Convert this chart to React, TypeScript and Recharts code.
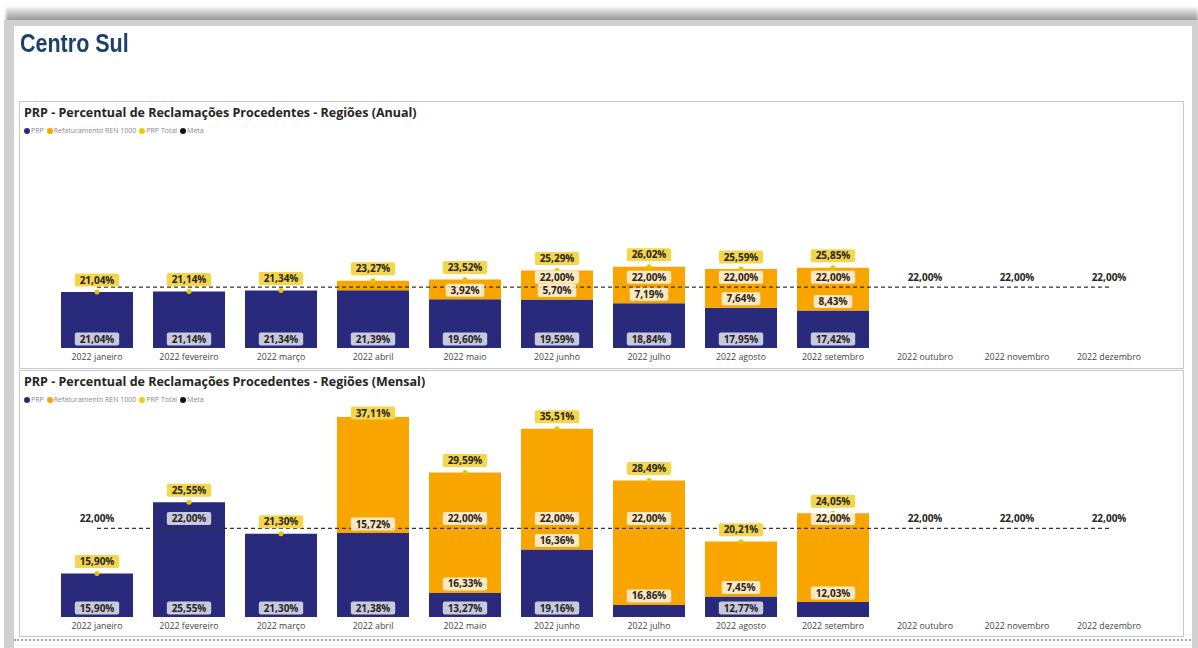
import React from "react";
import { ComposedChart, Bar, Line, XAxis, YAxis, LabelList } from "recharts";

const months = [
  "2022 janeiro",
  "2022 fevereiro",
  "2022 março",
  "2022 abril",
  "2022 maio",
  "2022 junho",
  "2022 julho",
  "2022 agosto",
  "2022 setembro",
  "2022 outubro",
  "2022 novembro",
  "2022 dezembro",
];

// Anual (acumulado)
const anualPrp = [21.04, 21.14, 21.34, 21.39, 19.6, 19.59, 18.84, 17.95, 17.42, null, null, null];
const anualRefat = [0, 0, 0, 1.88, 3.92, 5.7, 7.19, 7.64, 8.43, null, null, null];
const anualTotal = [21.04, 21.14, 21.34, 23.27, 23.52, 25.29, 26.02, 25.59, 25.85, null, null, null];

// Mensal
const mensalPrp = [15.9, 25.55, 21.3, 21.38, 13.27, 19.16, 11.63, 12.77, 12.02, null, null, null];
const mensalRefat = [0, 0, 0, 15.72, 16.33, 16.36, 16.86, 7.45, 12.03, null, null, null];
const mensalTotal = [15.9, 25.55, 21.3, 37.11, 29.59, 35.51, 28.49, 20.21, 24.05, null, null, null];

const meta = [22, 22, 22, 22, 22, 22, 22, 22, 22, 22, 22, 22];

const legendItems = [
  { label: "PRP", color: "#2a2a7d" },
  { label: "Refaturamento REN 1000", color: "#f8a500" },
  { label: "PRP Total", color: "#f2c811" },
  { label: "Meta", color: "#111" },
];

const NAVY = "#2a2a7d";
const ORANGE = "#f8a500";
const YELLOW_TAG = "#f4d64c";
const YELLOW_DOT = "#e8c400";
const FONT = "'Segoe UI', 'Open Sans', sans-serif";
const AXIS_MIN = 10;

const fmt = (v: number) => v.toFixed(2).replace(".", ",") + "%";

const charW: Record<string, number> = { ",": 2.8, "%": 8.7 };
const textWidth = (s: string) =>
  s.split("").reduce((w, c) => w + (charW[c] ?? 5.72), 0);

function Tag({ cx, cy, text, fill, opacity }: any) {
  const w = textWidth(text) + 10;
  return (
    <g>
      <rect x={cx - w / 2} y={cy - 6.5} width={w} height={13} rx={2} fill={fill} fillOpacity={opacity} />
      <text
        x={cx}
        y={cy}
        dy="0.35em"
        textAnchor="middle"
        fontSize={10}
        fontWeight={700}
        fontFamily={FONT}
        fill="#252423"
      >
        {text}
      </text>
    </g>
  );
}

interface PanelProps {
  title: string;
  boxTop: number;
  boxHeight: number;
  chartTop: number;
  chartHeight: number;
  marginTop: number;
  axisHeight: number;
  domainMax: number;
  prp: (number | null)[];
  refat: (number | null)[];
  total: (number | null)[];
}

function PrpPanel({
  title,
  boxTop,
  boxHeight,
  chartTop,
  chartHeight,
  marginTop,
  axisHeight,
  domainMax,
  prp,
  refat,
  total,
}: PanelProps) {
  const data = months.map((m, i) => ({
    month: m,
    prp: prp[i],
    refat: refat[i],
    total: total[i],
    meta: meta[i],
  }));
  const plotHeight = chartHeight - marginTop - axisHeight;
  const ppu = plotHeight / (domainMax - AXIS_MIN);

  const segLabel = (props: any) => {
    const { x, y, width, height, value } = props;
    if (value == null || !height || height < 18) return null;
    return <Tag cx={x + width / 2} cy={y + height - 9} text={fmt(value)} fill="#fff" opacity={0.75} />;
  };

  const totalLabel = (props: any) => {
    const { x, y, value } = props;
    if (value == null) return null;
    const cy = Math.max(y - 12, marginTop + 7);
    return <Tag cx={x} cy={cy} text={fmt(value)} fill={YELLOW_TAG} opacity={1} />;
  };

  const metaLabel = (props: any) => {
    const { x, y, value, index } = props;
    if (value == null) return null;
    const t = total[index];
    const p = prp[index];
    const r = refat[index];
    const cy = y - 10;
    // Power BI hides labels that collide
    if (t != null) {
      const tCy = Math.max(y - (t - value) * ppu - 12, marginTop + 7);
      if (Math.abs(tCy - cy) < 14) return null;
    }
    if (r != null && p != null && r * ppu >= 18) {
      const rCy = y - (Math.max(p, AXIS_MIN) - value) * ppu - 9;
      if (Math.abs(rCy - cy) < 8) return null;
    }
    return <Tag cx={x} cy={cy} text={fmt(value)} fill="#fff" opacity={0.75} />;
  };

  return (
    <>
      <div
        style={{
          position: "absolute",
          left: 19,
          top: boxTop,
          width: 1165,
          height: boxHeight,
          border: "1px solid #c8c8c8",
          boxSizing: "border-box",
        }}
      />
      <div
        style={{
          position: "absolute",
          left: 24,
          top: boxTop + 4,
          fontFamily: FONT,
          fontWeight: 700,
          fontSize: 12.5,
          lineHeight: "16px",
          color: "#252423",
          whiteSpace: "nowrap",
        }}
      >
        {title}
      </div>
      <div
        style={{
          position: "absolute",
          left: 24,
          top: boxTop + 26,
          display: "flex",
          alignItems: "center",
          gap: 3,
          fontFamily: FONT,
          fontSize: 7,
          lineHeight: "8px",
          color: "#888",
          whiteSpace: "nowrap",
        }}
      >
        {legendItems.map((it) => (
          <span key={it.label} style={{ display: "flex", alignItems: "center" }}>
            <span
              style={{
                display: "inline-block",
                width: 6,
                height: 6,
                borderRadius: "50%",
                background: it.color,
                marginRight: 1,
              }}
            />
            {it.label}
          </span>
        ))}
      </div>
      <div style={{ position: "absolute", left: 18, top: chartTop }}>
        <ComposedChart
          width={1167}
          height={chartHeight}
          data={data}
          margin={{ top: marginTop, right: 30, bottom: 0, left: 33 }}
        >
          <XAxis
            dataKey="month"
            interval={0}
            axisLine={false}
            tickLine={false}
            tickSize={0}
            tickMargin={6}
            height={axisHeight}
            tick={{ fontSize: 8.8, fill: "#444", fontFamily: FONT }}
          />
          <YAxis hide type="number" domain={[AXIS_MIN, domainMax]} allowDataOverflow />
          <Bar dataKey="prp" stackId="a" fill={NAVY} barSize={72} isAnimationActive={false}>
            <LabelList dataKey="prp" content={segLabel} />
          </Bar>
          <Bar dataKey="refat" stackId="a" fill={ORANGE} barSize={72} isAnimationActive={false}>
            <LabelList dataKey="refat" content={segLabel} />
          </Bar>
          <Line
            dataKey="meta"
            stroke="#333"
            strokeWidth={1.3}
            strokeDasharray="4 3"
            dot={false}
            activeDot={false}
            isAnimationActive={false}
          >
            <LabelList dataKey="meta" content={metaLabel} />
          </Line>
          <Line
            dataKey="total"
            stroke="none"
            dot={{ r: 2.5, fill: YELLOW_DOT, stroke: "none" }}
            activeDot={false}
            isAnimationActive={false}
          >
            <LabelList dataKey="total" content={totalLabel} />
          </Line>
        </ComposedChart>
      </div>
    </>
  );
}

export default function App() {
  return (
    <div
      style={{
        position: "absolute",
        left: 0,
        top: 0,
        width: 1198,
        height: 648,
        overflow: "hidden",
        background: "#fff",
      }}
    >
      {/* frame and shadow */}
      <div
        style={{
          position: "absolute",
          left: 6,
          top: 8,
          width: 1192,
          height: 15,
          background: "linear-gradient(#e6e6e6, #858585)",
          filter: "blur(1.5px)",
        }}
      />
      <div style={{ position: "absolute", left: 4, top: 20, width: 1194, height: 628, background: "#d0d0d0" }} />
      <div style={{ position: "absolute", left: 14, top: 26, width: 1178, height: 622, background: "#fff" }} />
      <div
        style={{
          position: "absolute",
          left: 20,
          top: 29,
          fontFamily: "'Liberation Sans', Arial, sans-serif",
          fontWeight: 700,
          fontSize: 25,
          lineHeight: "28px",
          color: "#1b406b",
          transform: "scaleX(0.86)",
          transformOrigin: "left top",
          whiteSpace: "nowrap",
        }}
      >
        Centro Sul
      </div>

      <PrpPanel
        title="PRP - Percentual de Reclamações Procedentes - Regiões (Anual)"
        boxTop={101}
        boxHeight={268}
        chartTop={101}
        chartHeight={269}
        marginTop={95}
        axisHeight={22}
        domainMax={40}
        prp={anualPrp}
        refat={anualRefat}
        total={anualTotal}
      />
      <PrpPanel
        title="PRP - Percentual de Reclamações Procedentes - Regiões (Mensal)"
        boxTop={370}
        boxHeight={267}
        chartTop={371}
        chartHeight={265}
        marginTop={35}
        axisHeight={19}
        domainMax={38.6}
        prp={mensalPrp}
        refat={mensalRefat}
        total={mensalTotal}
      />
      <div
        style={{
          position: "absolute",
          left: 14,
          top: 639,
          width: 1177,
          borderTop: "2px dotted #a0a0a0",
        }}
      />
    </div>
  );
}
